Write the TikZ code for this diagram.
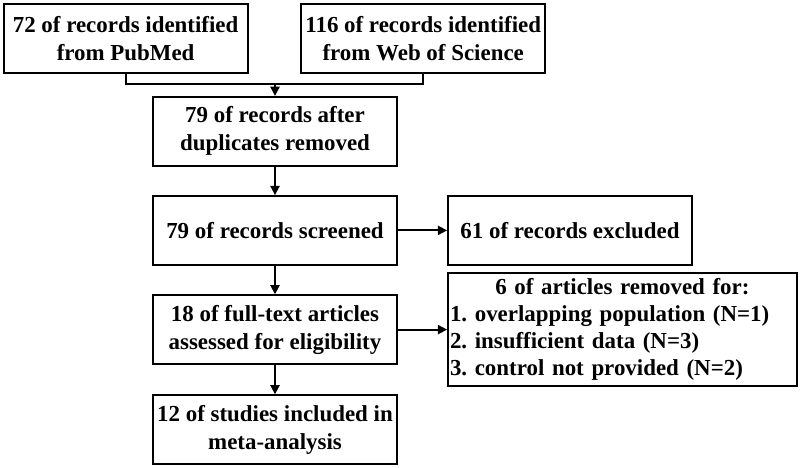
\documentclass[tikz,border=0pt]{standalone}
\usepackage{fontspec}
\setmainfont{Liberation Serif}
\usetikzlibrary{arrows.meta}
\begin{document}
\frenchspacing
\begin{tikzpicture}
	\tikzstyle{stage}=[rectangle,draw=black,line width=1.3pt,fill=white,align=center,minimum width=6.1cm,minimum height=1.72cm,inner sep=1pt,font=\fontsize{16.3}{20}\selectfont\bfseries]
	\tikzstyle{edge}=[draw,line width=1.3pt,-{Triangle[length=6.5pt,width=6.5pt]}]
	\tikzstyle{link}=[draw,line width=1.3pt]
	\useasboundingbox (0,0) rectangle (20,-11.7);
	\begin{scope}
		\node [stage] (pubmed) at (3.14,-0.96) {72 of records identified\\from PubMed};
		\node [stage] (wos) at (10.58,-0.96) {116 of records identified\\from Web of Science};
		\node [stage] (dedup) at (6.875,-3.28) {79 of records after\\duplicates removed};
		\node [stage] (screen) at (6.875,-5.76) {79 of records screened};
		\node [stage] (excl) at (14.25,-5.76) {61 of records excluded};
		\node [stage] (full) at (6.875,-8.24) {18 of full-text articles\\assessed for eligibility};
		\node [stage,align=left,minimum width=8.72cm,minimum height=2.82cm,text width=8.62cm,inner sep=1pt,font=\fontsize{16.3}{19.2}\selectfont\bfseries] (removed) at (15.56,-8.24) {\makebox[\linewidth]{6 of articles removed for:}\\1. overlapping population (N=1)\\2. insufficient data (N=3)\\3. control not provided (N=2)};
		\node [stage] (incl) at (6.875,-10.74) {12 of studies included in\\meta-analysis};
		\coordinate (join) at (6.875,-2.1);
		\path[link] (pubmed) |- (join) -| (wos);
		\path[edge] (join) -- (dedup);
		\path[edge] (dedup) -- (screen);
		\path[edge] (screen) -- (excl);
		\path[edge] (screen) -- (full);
		\path[edge] (full) -- (removed);
		\path[edge] (full) -- (incl);
	\end{scope}
\end{tikzpicture}
\end{document}
